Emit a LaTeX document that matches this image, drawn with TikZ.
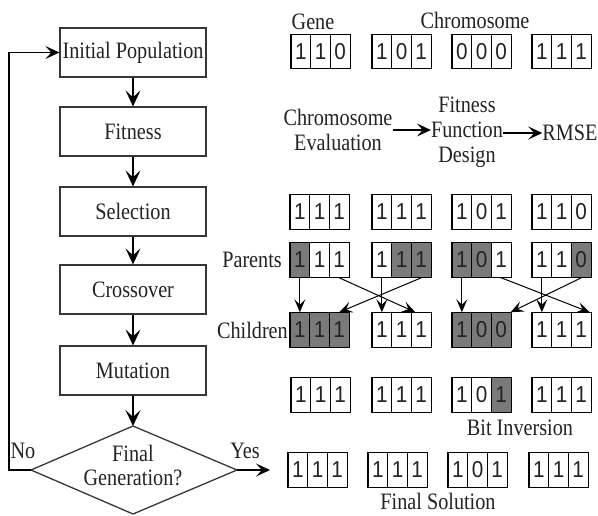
\documentclass[tikz,border=0pt]{standalone}
\usepackage{fontspec}
\setmainfont{Liberation Serif}
\newfontfamily\serifx[FakeStretch=0.86]{Liberation Serif}
\newfontfamily\digitfont[FakeStretch=0.9]{Liberation Sans}
\usetikzlibrary{arrows.meta,calc}
\definecolor{ink}{RGB}{35,35,35}
\definecolor{cg}{RGB}{122,122,122}
\definecolor{edgec}{RGB}{55,55,55}
\tikzset{
 flowbox/.style={draw=edgec, line width=1.3pt, minimum width=146pt, minimum height=49pt, inner sep=0pt, font=\serifx\fontsize{23.5}{25}\selectfont, text=ink},
 cell/.style={draw=black, line width=1.1pt, minimum width=19.7pt, minimum height=34.5pt, inner sep=0pt, font=\digitfont\fontsize{23}{23}\selectfont, text=ink},
 lbl/.style={font=\serifx\fontsize{23.5}{25}\selectfont, text=ink, inner sep=0pt, align=center},
 farrow/.style={draw=black, line width=1.4pt, -{Stealth[length=16pt,width=15pt,inset=7pt]}},
 harrow/.style={draw=black, line width=1.4pt, -{Stealth[length=14pt,width=13pt,inset=6pt]}},
 xarrow/.style={draw=black, line width=1pt, -{Stealth[length=13pt,width=11pt,inset=5.5pt]}},
 diam/.style={draw=edgec, line width=1.3pt},
}
\newcommand{\chrom}[9]{%
 \node[cell, fill=#7] (#1a) at (#2+9.85, #3) {#4};
 \node[cell, fill=#8] (#1b) at (#2+29.55, #3) {#5};
 \node[cell, fill=#9] (#1c) at (#2+49.25, #3) {#6};
}
\begin{document}
\begin{tikzpicture}[x=1pt,y=-1pt]
\useasboundingbox[fill=white] (0,0) rectangle (598,515);
% flow chart
\node[flowbox] (init) at (133,52.5) {Initial Population};
\node[flowbox] (fit) at (133,131.5) {Fitness};
\node[flowbox] (sel) at (133,211.5) {Selection};
\node[flowbox] (cross) at (133,289.5) {Crossover};
\node[flowbox] (mut) at (133,370.5) {Mutation};
\coordinate (dtop) at (133,426);
\coordinate (dright) at (237,470);
\coordinate (dbot) at (133,514);
\coordinate (dleft) at (31,470);
\draw[diam] (dtop) -- (dright) -- (dbot) -- (dleft) -- cycle;
\node[lbl, align=center, font=\serifx\fontsize{23.5}{24}\selectfont] (dtext) at (133,466) {Final\\Generation?};
\draw[farrow] (init.south) -- (fit.north);
\draw[farrow] (fit.south) -- (sel.north);
\draw[farrow] (sel.south) -- (cross.north);
\draw[farrow] (cross.south) -- (mut.north);
\draw[farrow] (mut.south) -- (dtop);
\coordinate (lc) at (9,470);
\draw[harrow] (dleft) -- (lc) |- (init.west);
\coordinate (ye) at (270,470);
\draw[harrow] (dright) -- (ye);
\node[lbl] (no) at (23,451) {No};
\node[lbl] (yes) at (245,451) {Yes};
% top row
\node[lbl] (gene) at (313,22) {Gene};
\node[lbl] (chromo) at (475,20) {Chromosome};
\chrom{ra}{291}{51.5}{1}{1}{0}{white}{white}{white}
\chrom{rb}{372}{51.5}{1}{0}{1}{white}{white}{white}
\chrom{rc}{452}{51.5}{0}{0}{0}{white}{white}{white}
\chrom{rd}{532}{51.5}{1}{1}{1}{white}{white}{white}
% evaluation
\node[lbl] (eval) at (338,130) {Chromosome\\Evaluation};
\node[lbl] (ffd) at (467,132) {Fitness\\Function\\Design};
\node[lbl] (rmse) at (570,133) {RMSE};
\draw[harrow] (eval.east) -- (ffd.west |- eval.east);
\draw[harrow] (ffd.east |- rmse.west) -- (rmse.west);
% selection row
\chrom{sa}{290}{212}{1}{1}{1}{white}{white}{white}
\chrom{sb}{372}{212}{1}{1}{1}{white}{white}{white}
\chrom{sc}{452}{212}{1}{0}{1}{white}{white}{white}
\chrom{sd}{532}{212}{1}{1}{0}{white}{white}{white}
% parents
\node[lbl, anchor=east] (par) at (282,260) {Parents};
\chrom{pa}{290}{260}{1}{1}{1}{cg}{white}{white}
\chrom{pb}{372}{260}{1}{1}{1}{white}{cg}{cg}
\chrom{pc}{452}{260}{1}{0}{1}{cg}{cg}{white}
\chrom{pd}{532}{260}{1}{1}{0}{white}{white}{cg}
% children
\node[lbl, anchor=east] (chi) at (288,330) {Children};
\chrom{ca}{290}{330}{1}{1}{1}{cg}{cg}{cg}
\chrom{cb}{372}{330}{1}{1}{1}{white}{white}{white}
\chrom{cc}{452}{330}{1}{0}{0}{cg}{cg}{cg}
\chrom{cd}{532}{330}{1}{1}{1}{white}{white}{white}
% crossover arrows
\draw[xarrow] (paa.south) -- (caa.north);
\draw[xarrow] (pac.south) -- ([xshift=-6pt]cbc.north);
\draw[xarrow] (pba.south) -- (cba.north);
\draw[xarrow] (pbc.south) -- (cac.north);
\draw[xarrow] (pca.south) -- (cca.north);
\draw[xarrow] (pcc.south) -- ([xshift=-2pt]cdc.north east);
\draw[xarrow] (pda.south) -- (cda.north);
\draw[xarrow] (pdc.south) -- ([xshift=-1pt]ccc.north east);
% mutation row
\chrom{ma}{291}{395}{1}{1}{1}{white}{white}{white}
\chrom{mb}{372}{395}{1}{1}{1}{white}{white}{white}
\chrom{mc}{452}{395}{1}{0}{1}{white}{white}{cg}
\chrom{md}{532}{395}{1}{1}{1}{white}{white}{white}
\node[lbl] (bitinv) at (520,428) {Bit Inversion};
% final row
\chrom{fa}{288}{470}{1}{1}{1}{white}{white}{white}
\chrom{fb}{368}{470}{1}{1}{1}{white}{white}{white}
\chrom{fc}{448}{470}{1}{0}{1}{white}{white}{white}
\chrom{fd}{529}{470}{1}{1}{1}{white}{white}{white}
\node[lbl] (finsol) at (438,501) {Final Solution};
\end{tikzpicture}
\end{document}
